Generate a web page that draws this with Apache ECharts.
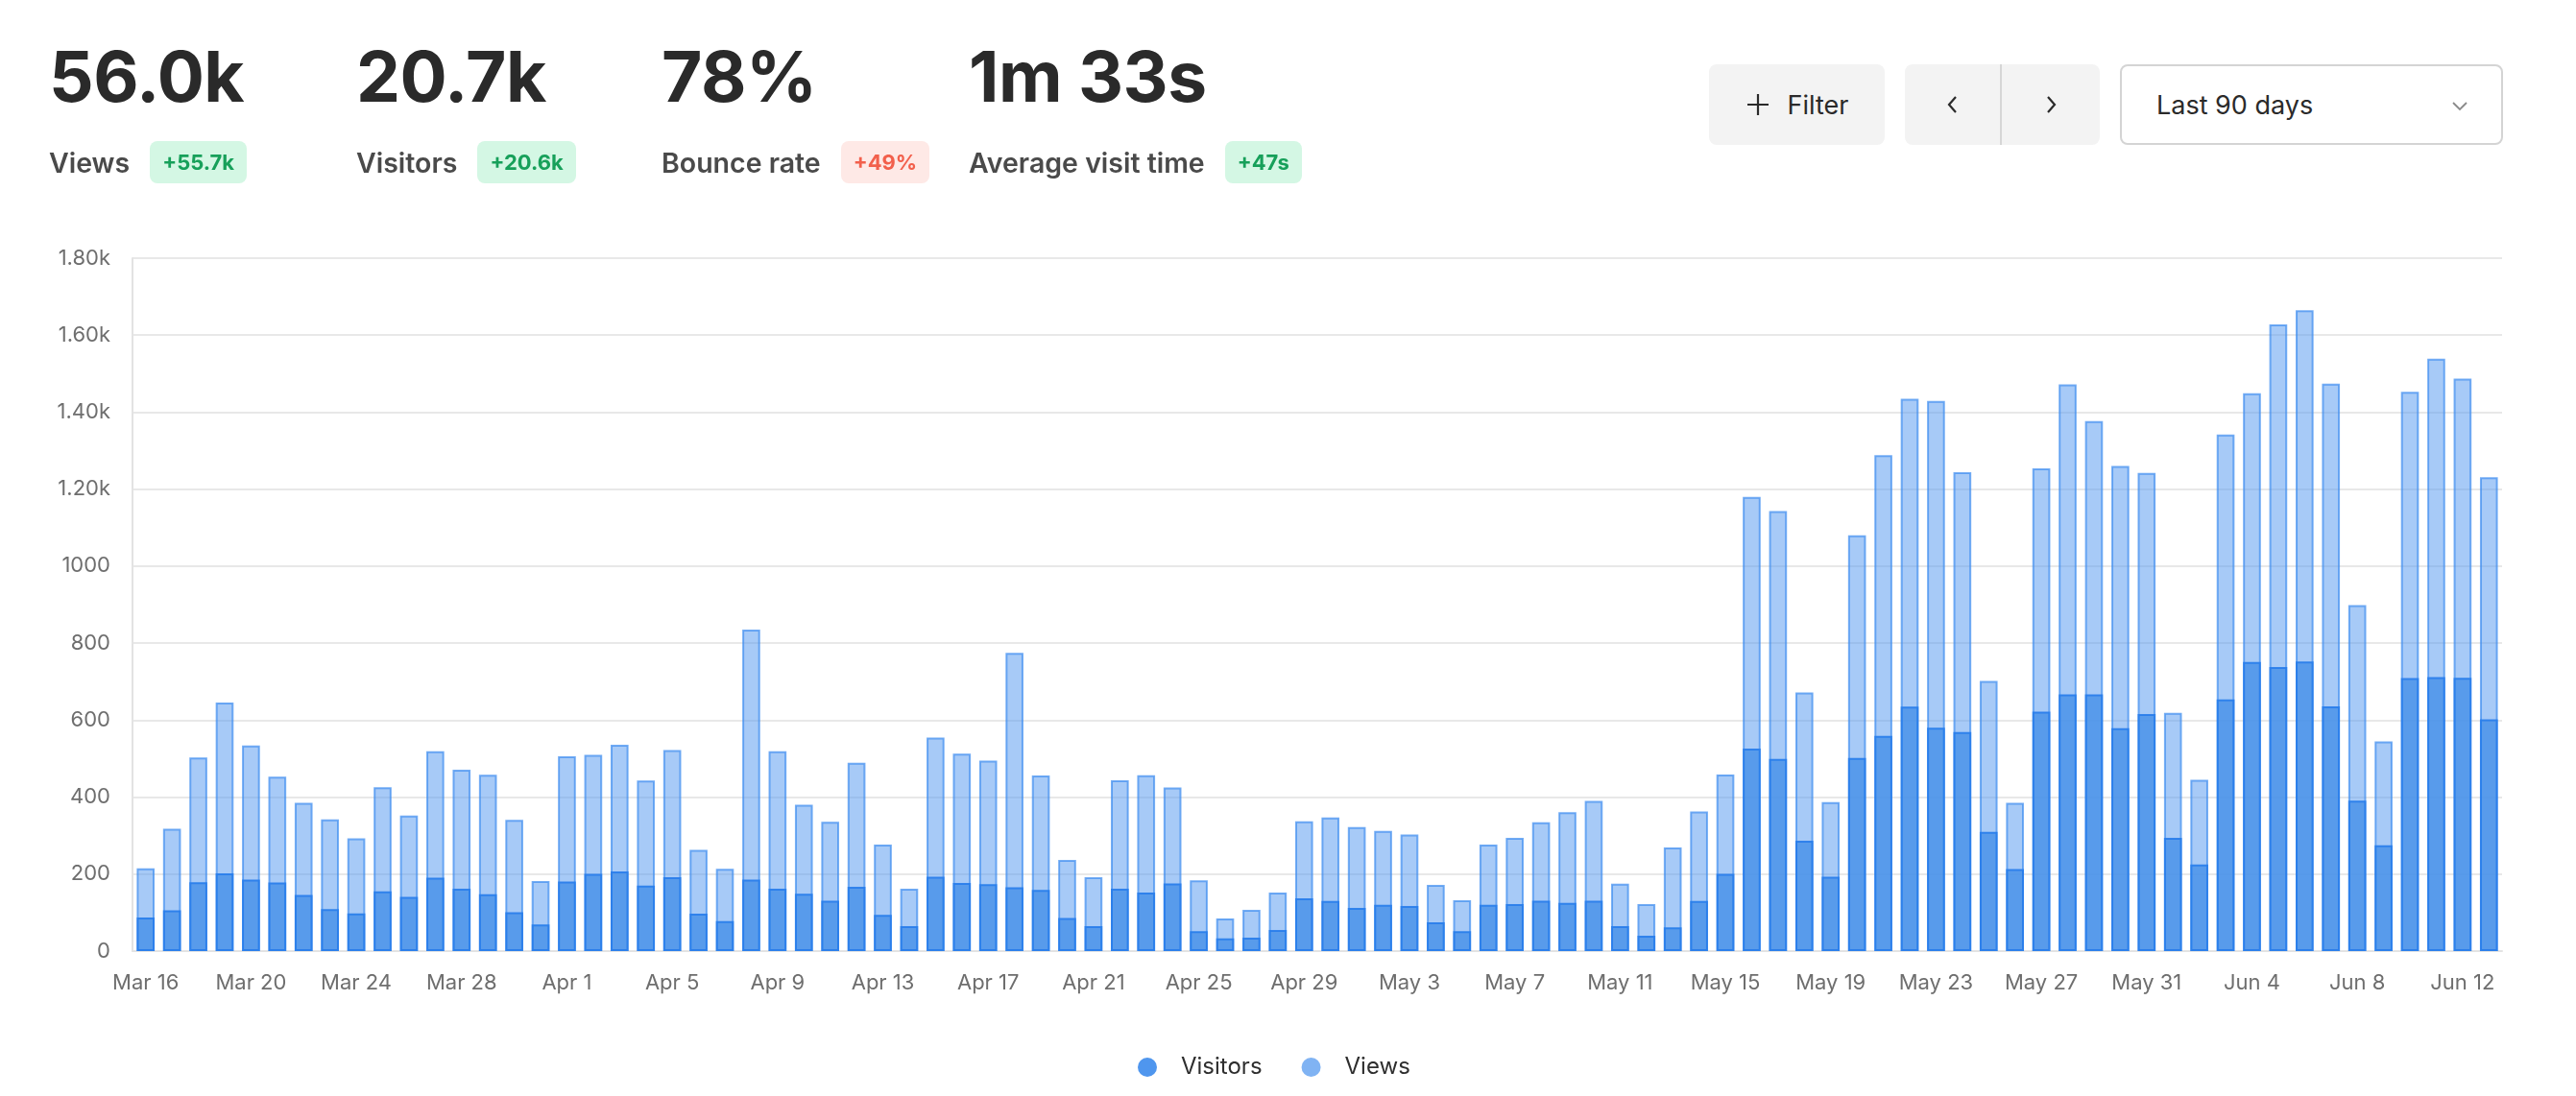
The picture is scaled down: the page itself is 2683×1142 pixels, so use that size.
<!DOCTYPE html>
<html>
<head>
<meta charset="utf-8">
<script src="https://cdn.jsdelivr.net/npm/echarts@6/dist/echarts.min.js"></script>
<style>
  html, body { margin: 0; padding: 0; background: #fff; }
  body { width: 2683px; height: 1142px; position: relative; overflow: hidden; font-family: Inter, "Noto Sans", sans-serif; }
  #chart { position: absolute; left: 0; top: 0; width: 2683px; height: 1142px; }
  .stat { position: absolute; top: 43px; }
  .big { font-size: 73px; line-height: 73px; font-weight: 700; color: #2a2a2a; letter-spacing: -0.5px; }
  .row { display: flex; align-items: center; height: 44px; margin-top: 31px; gap: 21px; }
  .lbl { font-size: 28.5px; font-weight: 600; color: #4a4a4a; white-space: nowrap; }
  .badge { height: 44px; padding: 0 13px; border-radius: 8px; display: flex; align-items: center; font-size: 22px; font-weight: 700; }
  .up { background: #d4f7e4; color: #17a05a; }
  .down { background: #fee9e6; color: #f2604c; }
  .btn { position: absolute; top: 67px; height: 84px; border-radius: 8px; box-sizing: border-box; display: flex; align-items: center; font-size: 27px; color: #2a2a2a; }
</style>
</head>
<body>
<div id="chart"></div>

<div class="stat" style="left:51px"><div class="big" id="s0v"></div><div class="row"><span class="lbl" id="s0l"></span><span class="badge up" id="s0b"></span></div></div>
<div class="stat" style="left:371px"><div class="big" id="s1v"></div><div class="row"><span class="lbl" id="s1l"></span><span class="badge up" id="s1b"></span></div></div>
<div class="stat" style="left:689px"><div class="big" id="s2v"></div><div class="row"><span class="lbl" id="s2l"></span><span class="badge down" id="s2b"></span></div></div>
<div class="stat" style="left:1009px"><div class="big" id="s3v"></div><div class="row"><span class="lbl" id="s3l"></span><span class="badge up" id="s3b"></span></div></div>

<div class="btn" style="left:1780px;width:183px;background:#f3f3f3;justify-content:center;">
  <svg width="26" height="26" viewBox="0 0 26 26" style="margin-right:18px"><path d="M13 2V24M2 13H24" stroke="#2a2a2a" stroke-width="2.2" fill="none"/></svg>
  <span>Filter</span>
</div>
<div class="btn" style="left:1984px;width:203px;background:#f3f3f3;">
  <div style="width:101px;height:84px;display:flex;align-items:center;justify-content:center;border-right:2px solid #d6d6d6;box-sizing:border-box;">
    <svg width="14" height="22" viewBox="0 0 14 22"><path d="M10 3L3 11L10 19" stroke="#2a2a2a" stroke-width="2.2" fill="none"/></svg>
  </div>
  <div style="width:102px;height:84px;display:flex;align-items:center;justify-content:center;">
    <svg width="14" height="22" viewBox="0 0 14 22"><path d="M4 3L11 11L4 19" stroke="#2a2a2a" stroke-width="2.2" fill="none"/></svg>
  </div>
</div>
<div class="btn" style="left:2208px;width:399px;border:2px solid #d4d4d4;background:#fff;padding-left:36px;">
  <span>Last 90 days</span>
  <svg width="18" height="12" viewBox="0 0 18 12" style="position:absolute;left:343px;top:36px"><path d="M2 2L9 9L16 2" stroke="#8a8a8a" stroke-width="1.8" fill="none"/></svg>
</div>

<script>
// ---- header stats ----
const statValues = ['56.0k', '20.7k', '78%', '1m 33s'];
const statLabels = ['Views', 'Visitors', 'Bounce rate', 'Average visit time'];
const statChanges = ['+55.7k', '+20.6k', '+49%', '+47s'];

// ---- chart data ----
const monthSpans = [['Mar', 16, 31], ['Apr', 1, 30], ['May', 1, 31], ['Jun', 1, 13]];
const visitors = [
  87,106,179,202,186,178,146,109,98,155,141,191,162,148,101,69,
  181,201,207,170,192,97,78,186,162,149,131,167,94,65,193,177,174,166,159,86,65,162,152,176,52,33,35,55,137,130,
  112,120,117,75,52,120,122,131,125,131,65,40,62,130,201,526,499,287,193,502,559,635,580,569,310,213,622,667,667,579,616,
  294,225,654,751,738,752,636,391,275,709,712,710,602
];
const views = [
  215,318,503,646,534,453,385,342,293,426,352,519,471,458,341,182,
  506,510,536,443,522,263,214,835,519,380,336,489,277,162,555,513,495,775,456,237,192,444,457,425,184,85,107,152,337,347,
  322,312,303,172,132,277,294,335,361,390,175,122,269,363,459,1180,1143,672,387,1080,1288,1435,1429,1244,702,385,1254,1472,1377,1260,1242,
  619,445,1342,1449,1628,1665,1474,899,545,1453,1539,1487,1231
];
const yTicks = [0, 200, 400, 600, 800, 1000, 1200, 1400, 1600, 1800];

const categories = [];
monthSpans.forEach(([m, a, b]) => { for (let d = a; d <= b; d++) categories.push(m + ' ' + d); });

for (let i = 0; i < 4; i++) {
  document.getElementById('s' + i + 'v').textContent = statValues[i];
  document.getElementById('s' + i + 'l').textContent = statLabels[i];
  document.getElementById('s' + i + 'b').textContent = statChanges[i];
}

const chart = echarts.init(document.getElementById('chart'), null, { renderer: 'canvas' });
const axisFont = { fontFamily: 'Inter', fontSize: 22, color: '#6e6e6e' };

chart.setOption({
  animation: false,
  textStyle: { fontFamily: 'Inter' },
  grid: { left: 138, right: 77, top: 269, bottom: 151, containLabel: false },
  legend: {
    left: 1180, top: 1095,
    itemWidth: 20, itemHeight: 20, itemGap: 41,
    icon: 'circle',
    textStyle: { fontFamily: 'Inter', fontSize: 24, color: '#2e2e2e', padding: [0, 0, 0, 20] },
    data: [
      { name: 'Visitors', itemStyle: { color: '#4f96ee', borderWidth: 0 } },
      { name: 'Views', itemStyle: { color: '#80b3f3', borderWidth: 0 } }
    ]
  },
  xAxis: {
    type: 'category',
    data: categories,
    boundaryGap: true,
    axisLine: { show: true, lineStyle: { color: '#e3e3e3', width: 2 } },
    axisTick: { show: false },
    axisLabel: Object.assign({ interval: 3, margin: 22 }, axisFont)
  },
  yAxis: {
    type: 'value',
    min: yTicks[0], max: yTicks[yTicks.length - 1], interval: yTicks[1] - yTicks[0],
    axisLine: { show: true, lineStyle: { color: '#e3e3e3', width: 2 } },
    axisTick: { show: false },
    splitLine: { show: true, lineStyle: { color: '#e8e8e8', width: 2 } },
    axisLabel: Object.assign({
      margin: 23,
      formatter: v => v > 1000 ? (v / 1000).toFixed(2) + 'k' : String(v)
    }, axisFont)
  },
  series: [
    {
      name: 'Views', type: 'bar', data: views,
      barCategoryGap: '32%', barGap: '-100%', z: 2,
      itemStyle: { color: 'rgba(80,149,240,0.5)', borderColor: 'rgba(60,140,240,0.7)', borderWidth: 2 }
    },
    {
      name: 'Visitors', type: 'bar', data: visitors,
      barCategoryGap: '32%', barGap: '-100%', z: 3,
      itemStyle: { color: 'rgba(66,142,232,0.78)', borderColor: 'rgba(40,125,235,0.9)', borderWidth: 2 }
    }
  ]
});
</script>
</body>
</html>
